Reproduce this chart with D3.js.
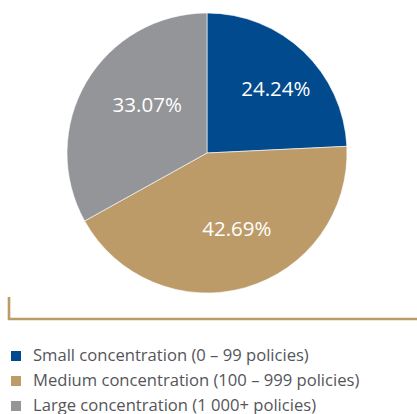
<!DOCTYPE html>
<html>
<head>
<meta charset="utf-8">
<script src="https://cdn.jsdelivr.net/npm/d3@7"></script>
<style>
  html, body { margin: 0; padding: 0; background: #fff; }
  svg { display: block; }
</style>
</head>
<body>
<svg id="chart" width="417" height="414"></svg>
<script>
// Share of policies by concentration band
const categories = [
  "Small concentration (0 – 99 policies)",
  "Medium concentration (100 – 999 policies)",
  "Large concentration (1 000+ policies)"
];
const values = [24.24, 42.69, 33.07];
const labels = ["24.24%", "42.69%", "33.07%"];
const colors = ["#004A8D", "#BD9B69", "#939598"];

const svg = d3.select("#chart");
const cx = 207, cy = 153, r = 140;

const pie = d3.pie().sort(null).value(d => d);
const arcs = pie(values);
const arc = d3.arc().innerRadius(0).outerRadius(r);

const g = svg.append("g").attr("transform", `translate(${cx},${cy})`);

g.selectAll("path.slice")
  .data(arcs)
  .join("path")
  .attr("class", "slice")
  .attr("d", arc)
  .attr("fill", (d, i) => colors[i])
  .attr("stroke", "#fff")
  .attr("stroke-width", 0.6);

// Label placement: radius and angular nudge per slice (best-fit style)
const labelArc = [
  { rad: 94, da: 0.06 },
  { rad: 81, da: -0.10 },
  { rad: 77, da: 0.15 }
];
g.selectAll("text.val")
  .data(arcs)
  .join("text")
  .attr("class", "val")
  .attr("x", (d, i) => {
    const a = (d.startAngle + d.endAngle) / 2 + labelArc[i].da;
    return Math.sin(a) * labelArc[i].rad;
  })
  .attr("y", (d, i) => {
    const a = (d.startAngle + d.endAngle) / 2 + labelArc[i].da;
    return -Math.cos(a) * labelArc[i].rad;
  })
  .attr("dy", "0.36em")
  .attr("text-anchor", "middle")
  .attr("fill", "#fff")
  .style("font-family", "'Open Sans', sans-serif")
  .style("font-size", "20.5px")
  .text((d, i) => labels[i]);

// Bracket rule under the pie
svg.append("path")
  .attr("d", "M9,297 V319 H417")
  .attr("fill", "none")
  .attr("stroke", "#BD9B69")
  .attr("stroke-width", 2.6);

// Legend
const legend = svg.append("g").attr("transform", "translate(11,351)");
const rows = legend.selectAll("g.row")
  .data(categories)
  .join("g")
  .attr("class", "row")
  .attr("transform", (d, i) => `translate(0,${i * 25})`);
rows.append("rect")
  .attr("width", 10).attr("height", 10)
  .attr("fill", (d, i) => colors[i]);
rows.append("text")
  .attr("x", 22).attr("y", 10)
  .attr("fill", "#555559")
  .style("font-family", "'Open Sans', sans-serif")
  .style("font-size", "16.6px")
  .text(d => d);
</script>
</body>
</html>
